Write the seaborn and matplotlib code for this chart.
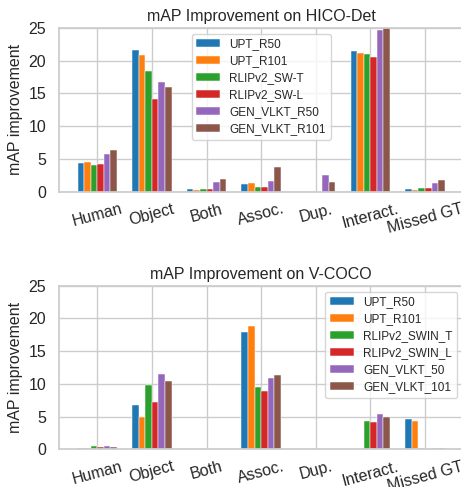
import pandas as pd
import matplotlib
matplotlib.use("Agg")
import matplotlib.pyplot as plt
import seaborn as sns

# categorias comunes a las dos graficas
categories = ['Human', 'Object', 'Both', 'Assoc.', 'Dup.', 'Interact.', 'Missed GT']

# HICO-Det
hico_models = ['UPT_R50', 'UPT_R101', 'RLIPv2_SW-T', 'RLIPv2_SW-L', 'GEN_VLKT_R50', 'GEN_VLKT_R101']
hico_upt_r50 = [4.3, 21.6, 0.36, 1.1, 0.0, 21.4, 0.36]
hico_upt_r101 = [4.6, 20.9, 0.3, 1.3, 0.0, 21.2, 0.3]
hico_rlip_t = [4.1, 18.4, 0.4, 0.7, 0.0, 21.0, 0.5]
hico_rlip_l = [4.2, 14.1, 0.4, 0.7, 0.0, 20.5, 0.6]
hico_gen_r50 = [5.8, 16.7, 1.5, 1.6, 2.5, 24.6, 1.4]
hico_gen_r101 = [6.3, 16.0, 1.9, 3.7, 1.5, 25.3, 1.8]

# V-COCO
vcoco_models = ['UPT_R50', 'UPT_R101', 'RLIPv2_SWIN_T', 'RLIPv2_SWIN_L', 'GEN_VLKT_50', 'GEN_VLKT_101']
vcoco_upt_r50 = [0.15, 6.7, 0.0, 17.9, 0.0, 0.0, 4.6]
vcoco_upt_r101 = [0.15, 5.0, 0.0, 18.9, 0.0, 0.0, 4.4]
vcoco_rlip_t = [0.5, 9.8, 0.0, 9.5, 0.0, 4.3, 0.2]
vcoco_rlip_l = [0.3, 7.3, 0.0, 8.85, 0.0, 4.1, 0.0]
vcoco_gen_50 = [0.55, 11.5, 0.0, 10.85, 0.0, 5.4, 0.25]
vcoco_gen_101 = [0.4, 10.4, 0.0, 11.3, 0.0, 4.95, 0.15]


def to_long(models, series):
    rows = []
    for m, vals in zip(models, series):
        for c, v in zip(categories, vals):
            rows.append({'Category': c, 'Model': m, 'Value': v})
    return pd.DataFrame(rows)


hico_df = to_long(hico_models, [hico_upt_r50, hico_upt_r101, hico_rlip_t,
                                hico_rlip_l, hico_gen_r50, hico_gen_r101])
vcoco_df = to_long(vcoco_models, [vcoco_upt_r50, vcoco_upt_r101, vcoco_rlip_t,
                                  vcoco_rlip_l, vcoco_gen_50, vcoco_gen_101])

sns.set_theme(style='whitegrid')
plt.rcParams['font.family'] = ['Liberation Sans', 'DejaVu Sans']

fig = plt.figure(figsize=(4.61, 4.87), dpi=100)
ax1 = fig.add_axes([0.1286, 0.6064, 0.8757, 0.3367])
ax2 = fig.add_axes([0.1286, 0.0774, 0.8757, 0.3359])

palette = sns.color_palette('tab10', 6)

for ax, df, title, loc in [(ax1, hico_df, 'mAP Improvement on HICO-Det', 'upper center'),
                           (ax2, vcoco_df, 'mAP Improvement on V-COCO', 'upper right')]:
    sns.barplot(data=df, x='Category', y='Value', hue='Model', ax=ax,
                palette=palette, saturation=1, width=0.72,
                edgecolor='white', linewidth=0.35)
    ax.set_xlim(-0.696, 6.696)
    ax.set_ylim(0, 25)
    ax.set_yticks([0, 5, 10, 15, 20, 25])
    ax.set_title(title, fontsize=11.5, pad=5)
    ax.set_xlabel('')
    ax.set_ylabel('mAP improvement', fontsize=11.5)
    ax.tick_params(axis='y', labelsize=11.5)
    ax.tick_params(axis='x', labelsize=11.5, pad=1)
    for lbl in ax.get_xticklabels():
        lbl.set_rotation(15)
        lbl.set_ha('center')
    ax.grid(True, axis='both', color='#cccccc')
    ax.set_axisbelow(True)
    ax.legend(loc=loc, fontsize=8.5, title=None, labelspacing=0.42)

fig.savefig('out.png', dpi=100)
